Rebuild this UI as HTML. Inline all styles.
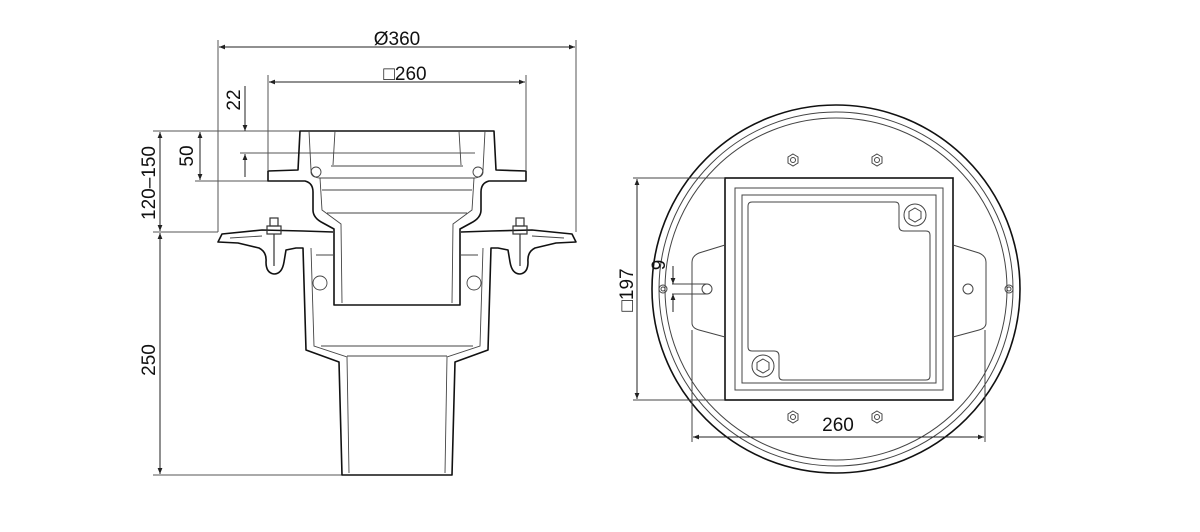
<!DOCTYPE html>
<html><head><meta charset="utf-8"><style>
html,body{margin:0;padding:0;background:#fff;}
svg{display:block;}
text{font-family:"Liberation Sans",sans-serif;font-size:19px;fill:#111;}
</style></head><body>
<svg width="1200" height="532" viewBox="0 0 1200 532" xmlns="http://www.w3.org/2000/svg">
<defs>
<marker id="a" viewBox="0 0 10 10" refX="10" refY="5" markerWidth="10" markerHeight="6" orient="auto-start-reverse" markerUnits="userSpaceOnUse"><path d="M0,1 L10,5 L0,9 z" fill="#222"/></marker>
</defs>
<g stroke="#555" stroke-width="1" fill="none">
<line x1="218" y1="40" x2="218" y2="232"/>
<line x1="576" y1="40" x2="576" y2="232"/>
<line x1="268" y1="75" x2="268" y2="170"/>
<line x1="526" y1="75" x2="526" y2="170"/>
<line x1="153" y1="131" x2="300" y2="131"/>
<line x1="153" y1="232" x2="218" y2="232"/>
<line x1="153" y1="475" x2="342" y2="475"/>
<line x1="195" y1="181" x2="268" y2="181"/>
<line x1="240" y1="153" x2="475" y2="153"/>
</g>
<g stroke="#222" stroke-width="1" fill="none" marker-start="url(#a)" marker-end="url(#a)">
<line x1="219" y1="47" x2="575" y2="47"/>
<line x1="269" y1="82" x2="525" y2="82"/>
<line x1="160" y1="132" x2="160" y2="231"/>
<line x1="160" y1="233" x2="160" y2="474"/>
<line x1="200" y1="132" x2="200" y2="180"/>
</g>
<g stroke="#222" stroke-width="1" fill="none">
<line x1="245" y1="86" x2="245" y2="131" marker-end="url(#a)"/>
<line x1="245" y1="177" x2="245" y2="154" marker-end="url(#a)"/>
</g>
<text x="397" y="45" text-anchor="middle">Ø360</text>
<text x="405" y="80" text-anchor="middle">□260</text>
<text transform="translate(155,183) rotate(-90)" text-anchor="middle">120–150</text>
<text transform="translate(193,156) rotate(-90)" text-anchor="middle">50</text>
<text transform="translate(240,100) rotate(-90)" text-anchor="middle">22</text>
<text transform="translate(155,360) rotate(-90)" text-anchor="middle">250</text>

<g stroke="#111" stroke-width="1.6" fill="none" stroke-linejoin="round">
<path d="M300,131 L494,131 L496,170 L526,171 L526,181 L489,181 Q481,183 481,192 L481,210 Q481,218 471,223 L460,229 L460,305 L334,305 L334,229 L323,223 Q313,218 313,210 L313,192 Q313,183 305,181 L268,181 L268,171 L298,170 Z"/>
<path d="M333,232 L303,231 L262,230 L222,234 L218,242 L238,243 L259,248 Q267,252 266,262 Q266,273 274,274 Q282,274 284,262 L286,250 L296,248 L303,248 L306,350 L339,362 L342,475 L452,475 L455,362 L488,350 L491,248 L498,248 L508,250 L510,262 Q512,274 520,274 Q528,273 528,262 Q527,252 535,248 L556,243 L576,242 L572,234 L532,230 L491,231 L461,232"/>
</g>
<g stroke="#333" stroke-width="1.2" fill="none">
<rect x="267" y="226" width="14" height="8"/>
<rect x="513" y="226" width="14" height="8"/>
<rect x="270" y="218" width="8" height="8"/>
<rect x="516" y="218" width="8" height="8"/>
<line x1="274" y1="234" x2="274" y2="266"/>
<line x1="520" y1="234" x2="520" y2="266"/>
</g>
<g stroke="#444" stroke-width="0.9" fill="none">
<path d="M309,131 L311,170 Q312,178 320,178 L474,178 Q482,178 483,170 L485,131"/>
<path d="M320,178 L322,210 L341,224 L342,303 M474,178 L472,210 L453,224 L452,303"/>
<path d="M331,166 L463,166 M333,165 L335,131 M461,165 L459,131"/>
<line x1="322" y1="190" x2="472" y2="190"/>
<line x1="327" y1="213" x2="467" y2="213"/>
<circle cx="316" cy="172" r="5"/><circle cx="478" cy="172" r="5"/>
<path d="M311,248 L314,346 L347,357 L349,473 M483,248 L480,346 L447,357 L445,473"/>
<line x1="321" y1="346" x2="473" y2="346"/>
<line x1="347" y1="356" x2="447" y2="356"/>
<path d="M316,255 L334,255 M460,255 L478,255"/>
<circle cx="320" cy="283" r="7"/><circle cx="474" cy="283" r="7"/>
<path d="M230,238 L262,236 M532,236 L564,238"/>
</g>

<g stroke="#111" stroke-width="1.6" fill="none">
<circle cx="836" cy="289" r="184"/>
<rect x="725" y="178" width="228" height="222"/>
</g>
<g stroke="#444" stroke-width="1" fill="none">
<circle cx="836" cy="289" r="177"/>
<circle cx="836" cy="289" r="171"/>
<rect x="735" y="188" width="208" height="202"/>
<rect x="742" y="195" width="194" height="188"/>
<path d="M752,202 L895,202 Q899,202 899,206 L899,226 Q899,231 904,231 L926,231 Q930,231 930,235 L930,376 Q930,380 926,380 L783,380 Q779,380 779,376 L779,356 Q779,351 774,351 L752,351 Q748,351 748,347 L748,206 Q748,202 752,202 Z"/>
<circle cx="915" cy="215" r="11"/>
<polygon points="915,208 921,211.5 921,218.5 915,222 909,218.5 909,211.5"/>
<circle cx="763" cy="366" r="11"/>
<polygon points="763,359 769,362.5 769,369.5 763,373 757,369.5 757,362.5"/>
<path d="M725,245 L699,253 Q692,256 692,262 L692,323 Q692,328 699,330 L725,337"/>
<path d="M953,245 L979,253 Q986,256 986,262 L986,323 Q986,328 979,330 L953,337"/>
<circle cx="707" cy="289" r="5"/><circle cx="968" cy="289" r="5"/>
<circle cx="663" cy="289" r="4"/><circle cx="663" cy="289" r="2"/>
<circle cx="1009" cy="289" r="4"/><circle cx="1009" cy="289" r="2"/>
<g>
<polygon points="793,154 798,157 798,163 793,166 788,163 788,157"/><circle cx="793" cy="160" r="2.5"/>
<polygon points="877,154 882,157 882,163 877,166 872,163 872,157"/><circle cx="877" cy="160" r="2.5"/>
<polygon points="793,411 798,414 798,420 793,423 788,420 788,414"/><circle cx="793" cy="417" r="2.5"/>
<polygon points="877,411 882,414 882,420 877,423 872,420 872,414"/><circle cx="877" cy="417" r="2.5"/>
</g>
<line x1="633" y1="178" x2="725" y2="178"/>
<line x1="633" y1="400" x2="725" y2="400"/>
<line x1="692" y1="330" x2="692" y2="442"/>
<line x1="985" y1="330" x2="985" y2="442"/>
<line x1="672" y1="284" x2="707" y2="284"/>
<line x1="672" y1="294" x2="707" y2="294"/>
</g>
<g stroke="#222" stroke-width="1" fill="none" marker-start="url(#a)" marker-end="url(#a)">
<line x1="637" y1="179" x2="637" y2="399"/>
<line x1="693" y1="437" x2="984" y2="437"/>
</g>
<g stroke="#222" stroke-width="1" fill="none">
<line x1="673" y1="266" x2="673" y2="284" marker-end="url(#a)"/>
<line x1="673" y1="312" x2="673" y2="294" marker-end="url(#a)"/>
</g>
<text transform="translate(633,290) rotate(-90)" text-anchor="middle">□197</text>
<text transform="translate(665,265) rotate(-90)" text-anchor="middle">9</text>
<text x="838" y="431" text-anchor="middle">260</text>
</svg>
</body></html>
